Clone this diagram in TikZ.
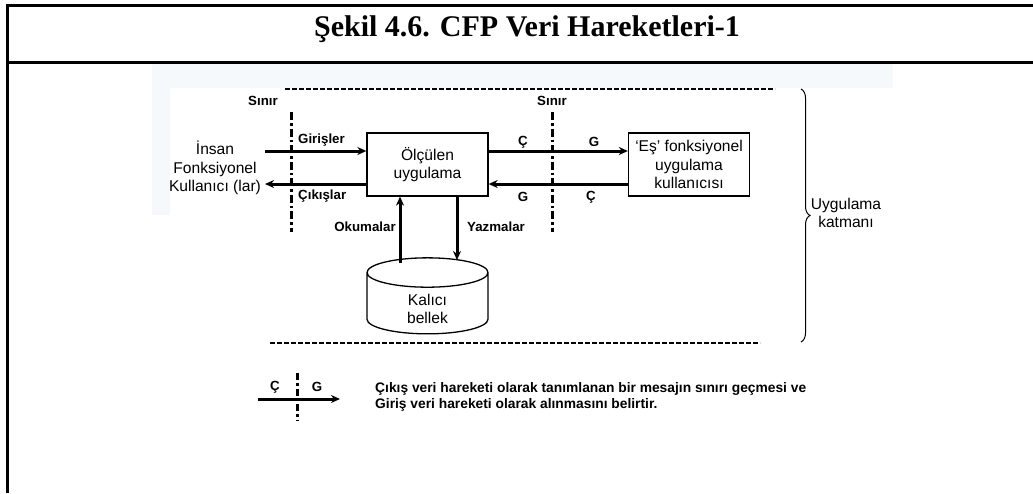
\documentclass[tikz,border=0pt]{standalone}
\usepackage{fontspec}
\setmainfont{Liberation Sans}
\newfontfamily\titlefont{Liberation Serif}
\usetikzlibrary{arrows.meta,shapes.geometric,decorations.pathreplacing}
\definecolor{tint}{RGB}{246,249,251}

\begin{document}
\begin{tikzpicture}[x=1pt, y=-1pt,
    frame/.style={line width=3pt},
    box/.style={draw, line width=1.3pt, minimum width=121pt, minimum height=63pt, align=center, inner sep=0pt, font=\fontsize{15.6}{18.5}\selectfont},
    arr/.style={-{Stealth[length=9pt, width=8pt]}, line width=3pt},
    lbl/.style={font=\bfseries\fontsize{13.3}{15}\selectfont, inner sep=0pt},
    txt/.style={align=center, inner sep=0pt, font=\fontsize{15.6}{18.5}\selectfont},
    sinir/.style={line width=3pt, dash pattern=on 8pt off 3pt on 2.5pt off 3pt},
    katman/.style={line width=1.6pt, dash pattern=on 5pt off 2pt}
]
\useasboundingbox (0,0) rectangle (1033,493);

% cerceve
\fill[tint] (152,64) rectangle (893,88);
\fill[tint] (152,88) rectangle (170,215);
\draw[frame] (7,5) -- (1033,5);
\draw[frame] (7,62) -- (1033,62);
\draw[frame] (7,3.5) -- (7,493);
\node[font=\titlefont\bfseries\fontsize{30}{32}\selectfont] (title) at (527,29) {Şekil 4.6. CFP Veri Hareketleri-1};

% uygulama katmani
\draw[katman] (285,89) -- (775,89);
\draw[katman] (270,343) -- (760,343);
\draw[line width=1pt, decorate, decoration={brace, amplitude=9pt}] (801,89) -- (801,342);
\node[txt] (katman) at (846,213) {Uygulama\\katmanı};

\node[box] (olc) at (427.5,164.5) {Ölçülen\\uygulama};
\node[box] (es) at (689,164.5) {‘Eş’ fonksiyonel\\uygulama\\kullanıcısı};
\node[txt] (insan) at (215,168) {İnsan\\Fonksiyonel\\Kullanıcı (lar)};
\node[txt, cylinder, shape border rotate=90, draw, line width=1.3pt, aspect=0.72, minimum width=121pt, minimum height=76pt] (kb) at (427.5,303.5) {\phantom{Kalıcı}\\\phantom{bellek}};
\node[txt] (kbtxt) at (427.5,309) {Kalıcı\\bellek};

% sinirlar
\node[lbl] (s1) at (263,101) {Sınır};
\node[lbl] (s2) at (552,101) {Sınır};
\draw[sinir] (291,112) -- (291,232);
\draw[sinir] (552,112) -- (552,232);

\coordinate (r1) at (0,151);
\coordinate (r2) at (0,184);
\coordinate (hin) at (265,151);
\coordinate (hout) at (265,184);
\draw[arr] (hin) -- (hin -| olc.west);
\draw[arr] (hout -| olc.west) -- (hout);
\draw[arr] (r1 -| olc.east) -- (r1 -| es.west);
\draw[arr] (r2 -| es.west) -- (r2 -| olc.east);
\node[lbl, anchor=west] (gir) at (298,140) {Girişler};
\node[lbl, anchor=west] (cik) at (298,196) {Çıkışlar};
\node[lbl] (c1) at (523,142) {Ç};
\node[lbl] (g1) at (594,142) {G};
\node[lbl] (g2) at (523,197) {G};
\node[lbl] (c2) at (591,197) {Ç};

\coordinate (oku) at (400,263);
\coordinate (yaz) at (457,260);
\draw[arr] (oku) -- (oku |- olc.south);
\draw[arr] (yaz |- olc.south) -- (yaz);
\node[lbl] (okum) at (365,227) {Okumalar};
\node[lbl] (yazm) at (496,227) {Yazmalar};

% aciklama
\coordinate (la) at (258,399);
\coordinate (lb) at (340,399);
\draw[arr] (la) -- (lb);
\draw[sinir, dash pattern=on 7pt off 3pt on 2.5pt off 3pt] (297,373) -- (297,420);
\node[lbl] (c3) at (275,387) {Ç};
\node[lbl] (g3) at (317,387) {G};
\node[lbl, anchor=west, align=left, font=\bfseries\fontsize{13.8}{15.5}\selectfont] (acik) at (375,397) {Çıkış veri hareketi olarak tanımlanan bir mesajın sınırı geçmesi ve\\Giriş veri hareketi olarak alınmasını belirtir.};
\end{tikzpicture}
\end{document}
